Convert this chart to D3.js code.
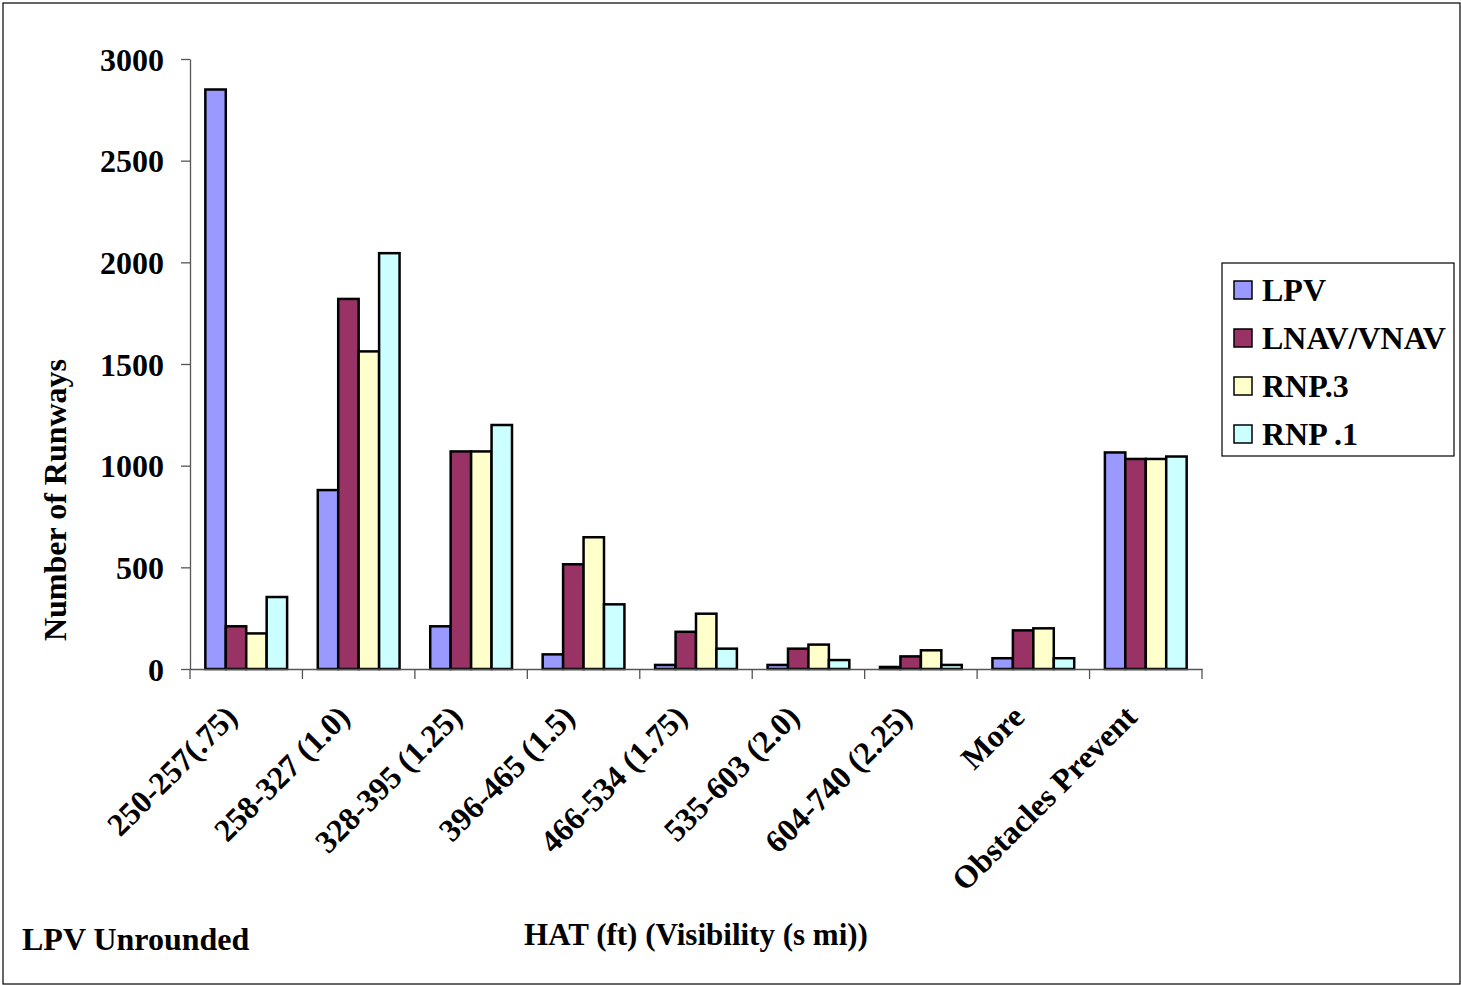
<!DOCTYPE html>
<html>
<head>
<meta charset="utf-8">
<script src="https://cdn.jsdelivr.net/npm/d3@7"></script>
<style>
  body { margin: 0; background: #fff; }
  text { font-family: "Liberation Serif", "Times New Roman", serif; font-weight: bold; fill: #000; }
</style>
</head>
<body>
<svg id="chart" width="1461" height="985"></svg>
<script>
// categories and series
const categories = ["250-257(.75)", "258-327 (1.0)", "328-395 (1.25)", "396-465 (1.5)",
    "466-534 (1.75)", "535-603 (2.0)", "604-740 (2.25)", "More", "Obstacles Prevent"]
const seriesNames = ["LPV", "LNAV/VNAV", "RNP.3", "RNP .1"]
const lpv      = [2850, 880, 210, 72, 20, 20, 10, 53, 1065]
const lnavVnav = [210, 1820, 1070, 515, 183, 100, 62, 190, 1033]
const rnp3     = [175, 1562, 1070, 648, 272, 120, 92, 200, 1033]
const rnp1     = [354, 2045, 1200, 318, 100, 44, 20, 53, 1045]
const yTicks = [0, 500, 1000, 1500, 2000, 2500, 3000]
const colors = ["#9999FF", "#993366", "#FFFFCC", "#CCFFFF"]

const seriesValues = [lpv, lnavVnav, rnp3, rnp1]
const fontSize = '32px'

const svg = d3.select('#chart')

// outer frame
svg.append('rect')
    .attr('x', 3).attr('y', 3)
    .attr('width', 1457).attr('height', 981)
    .attr('fill', 'none')
    .attr('stroke', '#000')
    .attr('stroke-width', 1.2)

const plot = { left: 190, right: 1202, top: 59, bottom: 669 }

const x0 = d3.scaleBand()
    .domain(categories)
    .range([plot.left, plot.right])
    .padding(0)

// Excel style gap width: 150% of one bar
const gap = x0.bandwidth() * 1.5 / 5.5
const x1 = d3.scaleBand()
    .domain(seriesNames)
    .range([gap / 2, x0.bandwidth() - gap / 2])
    .padding(0)

const y = d3.scaleLinear()
    .domain([0, 3000])
    .range([plot.bottom, plot.top])

const color = d3.scaleOrdinal().domain(seriesNames).range(colors)

// y axis
const yAxis = svg.append('g')
    .attr('transform', `translate(${plot.left},0)`)
    .call(d3.axisLeft(y).tickValues(yTicks).tickFormat(d3.format('d'))
        .tickSize(9).tickSizeOuter(0).tickPadding(17))
yAxis.select('.domain').attr('stroke', '#555').attr('stroke-width', 1.3)
yAxis.selectAll('.tick line').attr('stroke', '#555').attr('stroke-width', 1.3)
yAxis.selectAll('.tick text')
    .style('font-size', fontSize)
    .style('font-family', '"Liberation Serif", serif')
    .style('font-weight', 'bold')
    .attr('dy', '0.35em')

// bars
const groups = svg.append('g')
    .selectAll('g')
    .data(categories)
    .join('g')
    .attr('transform', d => `translate(${x0(d)},0)`)

groups.selectAll('rect')
    .data((d, i) => seriesNames.map((s, j) => ({ series: s, value: seriesValues[j][i] })))
    .join('rect')
    .attr('x', d => x1(d.series))
    .attr('y', d => y(d.value))
    .attr('width', x1.bandwidth())
    .attr('height', d => y(0) - y(d.value))
    .attr('fill', d => color(d.series))
    .attr('stroke', '#000')
    .attr('stroke-width', 2.5)

// x axis (drawn after bars so baseline sits on top)
const xAxis = svg.append('g')
    .attr('transform', `translate(0,${plot.bottom})`)
    .call(d3.axisBottom(x0).tickSize(0).tickFormat(''))
xAxis.select('.domain').attr('stroke', '#555').attr('stroke-width', 1.3)

// category boundary ticks
const bounds = categories.map(c => x0(c)).concat([plot.right])
svg.append('g')
    .selectAll('line')
    .data(bounds)
    .join('line')
    .attr('x1', d => d).attr('x2', d => d)
    .attr('y1', plot.bottom).attr('y2', plot.bottom + 10)
    .attr('stroke', '#555')
    .attr('stroke-width', 1.3)

// rotated category labels
svg.append('g')
    .selectAll('text')
    .data(categories)
    .join('text')
    .attr('transform', d => `translate(${x0(d) + x0.bandwidth() / 2 - 15},${plot.bottom + 42}) rotate(-45)`)
    .attr('text-anchor', 'end')
    .attr('dy', '0.35em')
    .style('font-size', fontSize)
    .text(d => d)

// axis titles
svg.append('text')
    .attr('transform', `translate(66,${(plot.top + plot.bottom) / 2 + 136}) rotate(-90)`)
    .attr('text-anchor', 'middle')
    .style('font-size', fontSize)
    .text('Number of Runways')

svg.append('text')
    .attr('x', 696)
    .attr('y', 945)
    .attr('text-anchor', 'middle')
    .style('font-size', '31px')
    .text('HAT (ft) (Visibility (s mi))')

svg.append('text')
    .attr('x', 22)
    .attr('y', 950)
    .style('font-size', fontSize)
    .text('LPV Unrounded')

// legend
const legend = svg.append('g').attr('transform', 'translate(1222,263)')
legend.append('rect')
    .attr('width', 232).attr('height', 193)
    .attr('fill', '#fff')
    .attr('stroke', '#000')
    .attr('stroke-width', 1.2)

const legendItem = legend.selectAll('g.item')
    .data(seriesNames)
    .join('g')
    .attr('class', 'item')
    .attr('transform', (d, i) => `translate(12,${27 + i * 48})`)

legendItem.append('rect')
    .attr('x', 0).attr('y', -9)
    .attr('width', 18).attr('height', 18)
    .attr('fill', d => color(d))
    .attr('stroke', '#000')
    .attr('stroke-width', 1.5)

legendItem.append('text')
    .attr('x', 28)
    .attr('dy', '0.35em')
    .style('font-size', fontSize)
    .text(d => d)
</script>
</body>
</html>
